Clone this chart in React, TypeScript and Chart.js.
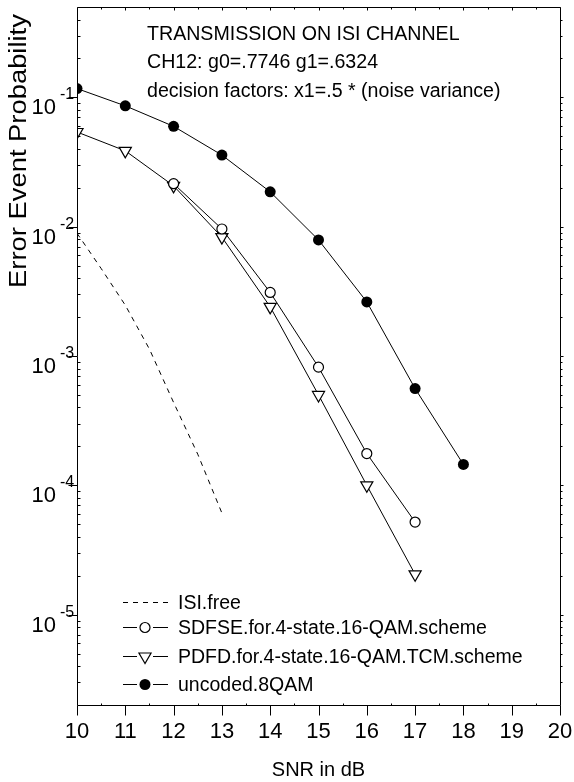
import React, { useEffect, useRef } from "react";
import { Chart, registerables } from "chart.js";

Chart.register(...registerables);

// ---- data ----
const snrUncoded = [10, 11, 12, 13, 14, 15, 16, 17, 18];
const uncoded = [0.117, 0.086, 0.0597, 0.0358, 0.0186, 0.0079, 0.00262, 0.00056, 0.000145];

const snrSdfse = [12, 13, 14, 15, 16, 17];
const sdfse = [0.0215, 0.0096, 0.0031, 0.00082, 0.000176, 0.000052];

const snrPdfd = [10, 11, 12, 13, 14, 15, 16, 17];
const pdfd = [0.054, 0.0386, 0.0207, 0.0083, 0.0024, 0.0005, 0.0001, 0.0000205];

const snrIsi = [10, 10.5, 11, 11.5, 12, 12.5, 13];
const isiFree = [0.0089, 0.00475, 0.00247, 0.00113, 0.000437, 0.000174, 0.000061];

const xTicks = [10, 11, 12, 13, 14, 15, 16, 17, 18, 19, 20];
const yDecadeExps = [-5, -4, -3, -2, -1];
const xMin = 10;
const xMax = 20;
const yMin = 2e-6;
const yMax = 0.5;

const legendLabels = [
  "ISI.free",
  "SDFSE.for.4-state.16-QAM.scheme",
  "PDFD.for.4-state.16-QAM.TCM.scheme",
  "uncoded.8QAM",
];
const annotationLines = [
  "TRANSMISSION ON ISI CHANNEL",
  "CH12: g0=.7746 g1=.6324",
  "decision factors: x1=.5 * (noise variance)",
];
const xTitle = "SNR in dB";
const yTitle = "Error Event Probability";

const FONT = "'Liberation Sans', Arial, Helvetica, sans-serif";

function pts(xs: number[], ys: number[]) {
  return xs.map((x, i) => ({ x, y: ys[i] }));
}

function stretchedText(
  ctx: CanvasRenderingContext2D,
  text: string,
  x: number,
  y: number,
  size: number,
  sx: number,
  align: CanvasTextAlign,
  rot = 0
) {
  ctx.save();
  ctx.translate(x, y);
  if (rot) ctx.rotate(rot);
  ctx.scale(sx, 1);
  ctx.font = `${size}px ${FONT}`;
  ctx.textAlign = align;
  ctx.textBaseline = "alphabetic";
  ctx.fillStyle = "#000";
  ctx.fillText(text, 0, 0);
  ctx.restore();
}

function drawMarker(ctx: CanvasRenderingContext2D, kind: string, x: number, y: number) {
  ctx.save();
  ctx.lineWidth = 1.2;
  ctx.strokeStyle = "#000";
  if (kind === "circle") {
    ctx.beginPath();
    ctx.arc(x, y, 5, 0, Math.PI * 2);
    ctx.fillStyle = "#fff";
    ctx.fill();
    ctx.stroke();
  } else if (kind === "filled") {
    ctx.beginPath();
    ctx.arc(x, y, 5.5, 0, Math.PI * 2);
    ctx.fillStyle = "#000";
    ctx.fill();
  } else if (kind === "triangle") {
    const r = 7;
    ctx.beginPath();
    ctx.moveTo(x, y + r);
    ctx.lineTo(x - r * Math.sin(Math.PI / 3), y - r / 2);
    ctx.lineTo(x + r * Math.sin(Math.PI / 3), y - r / 2);
    ctx.closePath();
    ctx.fillStyle = "#fff";
    ctx.fill();
    ctx.stroke();
  }
  ctx.restore();
}

const framePlugin = {
  id: "frame",
  afterDatasetsDraw(chart: any) {
    const ctx: CanvasRenderingContext2D = chart.ctx;
    const { left, right, top, bottom } = chart.chartArea;
    const xs = chart.scales.x;
    const ys = chart.scales.y;
    ctx.save();
    ctx.strokeStyle = "#000";
    ctx.lineWidth = 1;
    const L = Math.round(left) + 0.5;
    const R = Math.round(right) + 0.5;
    const T = Math.round(top) + 0.5;
    const B = Math.round(bottom) + 0.5;
    ctx.beginPath();
    ctx.rect(L, T, R - L, B - T);
    ctx.stroke();

    // x ticks
    ctx.beginPath();
    for (const t of xTicks) {
      const px = Math.round(xs.getPixelForValue(t)) + 0.5;
      ctx.moveTo(px, B);
      ctx.lineTo(px, B + 10);
      ctx.moveTo(px, T);
      ctx.lineTo(px, T + 3);
      if (t < xMax) {
        const ph = Math.round(xs.getPixelForValue(t + 0.5)) + 0.5;
        ctx.moveTo(ph, B);
        ctx.lineTo(ph, B - 2);
        ctx.moveTo(ph, T);
        ctx.lineTo(ph, T + 2);
      }
    }
    // y major ticks
    for (const e of yDecadeExps) {
      const py = Math.round(ys.getPixelForValue(Math.pow(10, e))) + 0.5;
      ctx.moveTo(L - 9, py);
      ctx.lineTo(L, py);
      ctx.moveTo(R, py);
      ctx.lineTo(R + 3, py);
    }
    // y minor ticks
    for (let e = -6; e <= 0; e++) {
      for (let m = 2; m <= 9; m++) {
        const v = m * Math.pow(10, e);
        if (v <= yMin || v >= yMax) continue;
        const py = Math.round(ys.getPixelForValue(v)) + 0.5;
        ctx.moveTo(L, py);
        ctx.lineTo(L + 3, py);
        ctx.moveTo(R, py);
        ctx.lineTo(R + 2, py);
      }
    }
    ctx.stroke();

    // x tick labels
    for (const t of xTicks) {
      const px = xs.getPixelForValue(t);
      stretchedText(ctx, String(t), px, bottom + 33, 22, 1, "center");
    }
    // y tick labels 10^e
    for (const e of yDecadeExps) {
      const py = ys.getPixelForValue(Math.pow(10, e));
      stretchedText(ctx, "10", left - 21, py + 17, 22, 1, "right");
      stretchedText(ctx, String(e), left - 17, py + 2, 16, 1, "left");
    }

    // axis titles
    stretchedText(ctx, xTitle, (left + right) / 2, bottom + 71, 20, 1, "center");
    stretchedText(ctx, yTitle, 26, 151, 23, 1.19, "center", -Math.PI / 2);

    // annotation
    const annY = [40, 68, 97];
    annotationLines.forEach((s, i) => stretchedText(ctx, s, 147, annY[i], 20, 0.98, "left"));

    // legend
    const legY = [609, 634, 663, 691];
    const kinds = ["dash", "circle", "triangle", "filled"];
    kinds.forEach((k, i) => {
      const ly = legY[i] - 7;
      ctx.save();
      ctx.strokeStyle = "#000";
      ctx.lineWidth = 1;
      ctx.beginPath();
      if (k === "dash") {
        ctx.setLineDash([5, 5]);
        ctx.moveTo(123, ly + 0.5);
        ctx.lineTo(168, ly + 0.5);
      } else {
        ctx.moveTo(123, ly + 0.5);
        ctx.lineTo(137, ly + 0.5);
        ctx.moveTo(153, ly + 0.5);
        ctx.lineTo(168, ly + 0.5);
      }
      ctx.stroke();
      ctx.restore();
      if (k !== "dash") drawMarker(ctx, k, 145, ly + 0.5);
      stretchedText(ctx, legendLabels[i], 178, legY[i], 19.5, 1, "left");
    });
    ctx.restore();
  },
};

export default function App() {
  const ref = useRef<HTMLCanvasElement | null>(null);
  useEffect(() => {
    document.body.style.margin = "0";
    const canvas = ref.current!;
    const chart = new Chart(canvas, {
      type: "line",
      data: {
        datasets: [
          {
            label: legendLabels[3],
            data: pts(snrUncoded, uncoded),
            borderColor: "#000",
            borderWidth: 1,
            pointStyle: "circle",
            pointRadius: 5.5,
            pointBackgroundColor: "#000",
            pointBorderColor: "#000",
            pointBorderWidth: 0,
            order: 1,
          },
          {
            label: legendLabels[1],
            data: pts(snrSdfse, sdfse),
            borderColor: "#000",
            borderWidth: 1,
            pointStyle: "circle",
            pointRadius: 5,
            pointBackgroundColor: "#fff",
            pointBorderColor: "#000",
            pointBorderWidth: 1.2,
            order: 2,
          },
          {
            label: legendLabels[2],
            data: pts(snrPdfd, pdfd),
            borderColor: "#000",
            borderWidth: 1,
            pointStyle: "triangle",
            pointRotation: 180,
            pointRadius: 7,
            pointBackgroundColor: "#fff",
            pointBorderColor: "#000",
            pointBorderWidth: 1.2,
            order: 3,
          },
          {
            label: legendLabels[0],
            data: pts(snrIsi, isiFree),
            borderColor: "#000",
            borderWidth: 1,
            borderDash: [5, 5],
            pointRadius: 0,
            order: 4,
          },
        ],
      },
      options: {
        responsive: false,
        animation: false,
        devicePixelRatio: 1,
        layout: { autoPadding: false, padding: { left: 77, top: 7, right: 14, bottom: 77 } },
        plugins: { legend: { display: false }, tooltip: { enabled: false }, title: { display: false } },
        elements: { line: { tension: 0 } },
        scales: {
          x: { type: "linear", min: xMin, max: xMax, display: false },
          y: { type: "logarithmic", min: yMin, max: yMax, display: false },
        },
      },
      plugins: [framePlugin],
    } as any);
    return () => chart.destroy();
  }, []);
  return (
    <div style={{ width: 574, height: 782, background: "#fff" }}>
      <canvas ref={ref} width={574} height={782} style={{ display: "block" }} />
    </div>
  );
}
